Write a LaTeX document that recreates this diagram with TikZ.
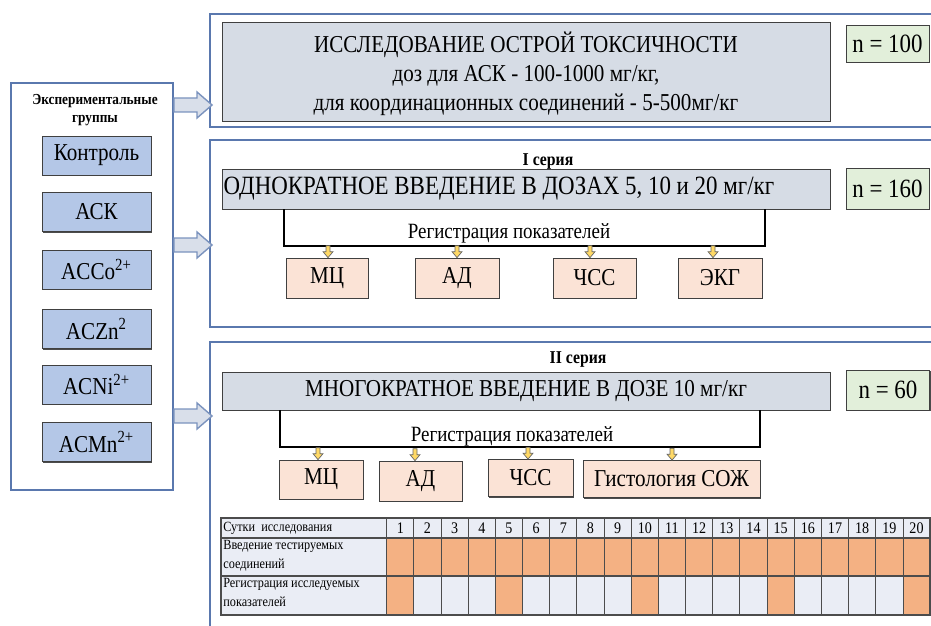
\documentclass[tikz,border=0pt]{standalone}
\usepackage{fontspec}
\setmainfont{Liberation Serif}[FakeStretch=0.87]
\usetikzlibrary{calc,shadows}
\definecolor{panelc}{HTML}{5A78AE}
\definecolor{grpc}{HTML}{B4C7E7}
\definecolor{bigc}{HTML}{D6DCE5}
\definecolor{nc}{HTML}{E2EFDA}
\definecolor{resc}{HTML}{FBE3D6}
\definecolor{arrc}{HTML}{D9DFEA}
\definecolor{yelc}{HTML}{FFD966}
\definecolor{tabbg}{HTML}{EAEDF5}
\definecolor{orangec}{HTML}{F4B183}
\newcommand\yarr[2]{\draw[yarrow] ($(#1)+(#2,0)$) ++(-2,-12) -- ++(4,0) -- ++(0,6) -- ++(3,0) -- ++(-5,6) -- ++(-5,-6) -- ++(3,0) -- cycle;}
\begin{document}
\begin{tikzpicture}[x=0.2mm,y=-0.2mm,
  panel/.style={draw=panelc,line width=1.1pt,minimum width=147mm,inner sep=0pt},
  shad/.style={drop shadow={shadow xshift=0.8pt,shadow yshift=-0.8pt,fill=black!70,opacity=1}},
  grpbox/.style={draw=black!75,fill=grpc,minimum width=21.8mm,minimum height=7.8mm,inner sep=0pt,font=\fontsize{13.8}{15}\selectfont,shad},
  bigbox/.style={draw=black!75,fill=bigc,minimum width=121.6mm,inner sep=0pt,font=\fontsize{13.8}{15}\selectfont,shad},
  nbox/.style={draw=black!75,fill=nc,minimum width=16.6mm,inner sep=0pt,font=\fontsize{15}{16}\selectfont,shad},
  resbox/.style={draw=black!75,fill=resc,minimum height=8mm,inner sep=0pt,font=\fontsize{13.8}{15}\selectfont,shad},
  sertitle/.style={font=\bfseries\fontsize{10.3}{11}\selectfont,inner sep=0pt},
  reglabel/.style={font=\fontsize{12.4}{13}\selectfont,inner sep=0pt},
  bracket/.style={draw=black,line width=1.3pt},
  blockarr/.style={draw=panelc!80,fill=arrc,line width=0.8pt},
  yarrow/.style={draw=black!60,fill=yelc,line width=0.4pt},
  tabline/.style={draw=black!70,line width=0.5pt},
  tabtxt/.style={font=\fontsize{8}{10.5}\selectfont,inner sep=0pt}]
\useasboundingbox (0,0) rectangle (931,626);
\clip (0,0) rectangle (931,626);
% groups
\node[panel,minimum width=32.4mm,minimum height=81.4mm] (grp) at (92,286.5) {};
\node[font=\bfseries\fontsize{8.7}{10.5}\selectfont,align=center,inner sep=0pt] (grptitle) at (95,110) {Экспериментальные\\группы};
\node[grpbox] (g1) at (96.5,155.5) {Контроль};
\node[grpbox] (g2) at (96.5,212) {АСК};
\node[grpbox] (g3) at (96.5,269.5) {ACCo\textsuperscript{2+}};
\node[grpbox] (g4) at (96.5,329) {ACZn\textsuperscript{2}};
\node[grpbox] (g5) at (96.5,384.5) {ACNi\textsuperscript{2+}};
\node[grpbox] (g6) at (96.5,442) {ACMn\textsuperscript{2+}};
% panels
\node[panel,minimum height=22.6mm] (pan1) at (577.5,70.5) {};
\node[panel,minimum height=37.4mm] (pan2) at (577.5,233.5) {};
\node[panel,minimum height=63.6mm] (pan3) at (577.5,501) {};
\foreach \y/\p in {105/pan1,245/pan2,416/pan3}{
  \coordinate (yy) at (0,\y);
  \path (\p.west |- yy) ++(3,0) coordinate (tip);
  \draw[blockarr] (grp.east |- yy) ++(0,-7) -- ($(tip)+(-15,-7)$) -- ($(tip)+(-15,-13)$) -- (tip)
    -- ($(tip)+(-15,13)$) -- ($(tip)+(-15,7)$) -- ($(grp.east |- yy)+(0,7)$) -- cycle;
}
% acute toxicity
\node[bigbox,minimum height=19.8mm] (acute) at (526,71.5) {};
\node[align=center,inner sep=0pt,font=\fontsize{13.8}{16.5}\selectfont] (acutetxt) at (526,74)
  {ИССЛЕДОВАНИЕ ОСТРОЙ ТОКСИЧНОСТИ\\доз для АСК - 100-1000 мг/кг,\\для координационных соединений - 5-500мг/кг};
\node[nbox,minimum height=7.4mm] (n100) at (887.5,43.5) {n = 100};
% series I
\node[sertitle] (ser1) at (548,162) {I серия};
\node[bigbox,minimum height=8mm,font=\fontsize{15}{16}\selectfont] (once) at (526,189) {ОДНОКРАТНОЕ ВВЕДЕНИЕ В ДОЗАХ 5, 10 и 20 мг/кг\hspace*{10.8mm}};
\node[nbox,minimum height=8.2mm] (n160) at (887.5,188.5) {n = 160};
\coordinate (b1l) at (284,246);
\coordinate (b1r) at (765,246);
\draw[bracket] (once.south -| b1l) -- (b1l) -- (b1r) -- (once.south -| b1r);
\node[reglabel] (reg1) at (509,233) {Регистрация показателей};
\node[resbox,minimum width=16.4mm] (mc1) at (327,278) {МЦ};
\node[resbox,minimum width=16.8mm] (ad1) at (457,278) {АД};
\node[resbox,minimum width=16.6mm] (hss1) at (594.5,278) {ЧСС};
\node[resbox,minimum width=16.8mm] (ekg1) at (720,278) {ЭКГ};
\yarr{mc1.north}{1}
\yarr{ad1.north}{0}
\yarr{hss1.north}{-4.5}
\yarr{ekg1.north}{-7}
% series II
\node[sertitle] (ser2) at (578,359) {II серия};
\node[bigbox,minimum height=7.6mm] (many) at (526,391) {МНОГОКРАТНОЕ ВВЕДЕНИЕ В ДОЗЕ 10 мг/кг};
\node[nbox,minimum height=8mm] (n60) at (888,390) {n = 60};
\coordinate (b2l) at (280,447);
\coordinate (b2r) at (760,447);
\draw[bracket] (many.south -| b2l) -- (b2l) -- (b2r) -- (many.south -| b2r);
\node[reglabel] (reg2) at (512,436) {Регистрация показателей};
\node[resbox,minimum width=16.8mm,minimum height=7.8mm] (mc2) at (321,479.5) {МЦ};
\node[resbox,minimum width=16.6mm] (ad2) at (420.5,481) {АД};
\node[resbox,minimum width=17mm,minimum height=7.4mm] (hss2) at (530.5,478) {ЧСС};
\node[resbox,minimum width=35.4mm,minimum height=7.4mm] (hist) at (671.5,479) {Гистология СОЖ};
\yarr{mc2.north}{-3}
\yarr{ad2.north}{-5.5}
\yarr{hss2.north}{-2.5}
\yarr{hist.north}{0.5}
% schedule table
\fill[tabbg] (221,518) rectangle (930,615);
\foreach \d in {1,...,20}
  \fill[orangec] ({386.7+(\d-1)*27.17},538) rectangle ++(27.17,38);
\foreach \d in {1,5,10,15,20}
  \fill[orangec] ({386.7+(\d-1)*27.17},576) rectangle ++(27.17,39);
\foreach \d in {0,...,19}
  \draw[tabline] ({386.7+\d*27.17},518) -- ++(0,97);
\draw[tabline,line width=0.8pt] (221,538) -- (930,538);
\draw[tabline,line width=0.8pt] (221,576) -- (930,576);
\draw[tabline,line width=0.8pt] (221,518) rectangle (930,615);
\foreach \d in {1,...,20}
  \node[tabtxt,font=\fontsize{9.2}{10}\selectfont] (day\d) at ({386.7+(\d-0.5)*27.17},528) {\d};
\node[tabtxt,anchor=west] (rowday) at (223,528) {Сутки\ \ исследования};
\node[tabtxt,anchor=north west,align=left] (rowdose) at (223,540) {Введение тестируемых\\соединений};
\node[tabtxt,anchor=north west,align=left] (rowreg) at (223,578) {Регистрация исследуемых\\показателей};
\end{tikzpicture}
\end{document}
